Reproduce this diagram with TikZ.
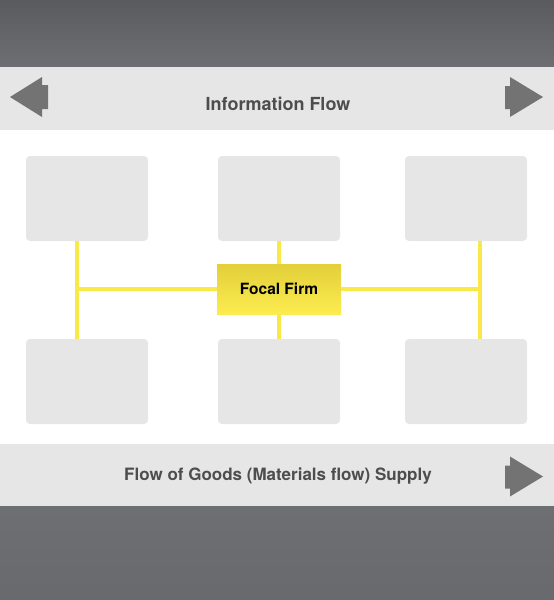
\documentclass[tikz,border=0pt]{standalone}
\usepackage{fontspec}
\setmainfont{TeX Gyre Heros}
\usetikzlibrary{positioning}

\definecolor{bandgray}{RGB}{230,230,230}
\definecolor{darktop}{RGB}{90,91,94}
\definecolor{darkbot}{RGB}{110,111,114}
\definecolor{arrowgray}{RGB}{115,115,116}
\definecolor{labelgray}{RGB}{77,77,79}
\definecolor{linkyellow}{RGB}{250,232,70}
\definecolor{firmtop}{RGB}{226,207,58}
\definecolor{firmbot}{RGB}{253,236,80}

\begin{document}
\begin{tikzpicture}
  [x=1pt, y=1pt,
    every node/.style={inner sep=0pt, outer sep=0pt},
    box/.style={fill=bandgray, rounded corners=4pt, minimum width=122pt, minimum height=85pt},
    firm/.style={top color=firmtop, bottom color=firmbot, minimum width=124pt, minimum height=50pt,
                 font=\bfseries\fontsize{15.5}{18}\selectfont},
    bandlabel/.style={text=labelgray, font=\bfseries\fontsize{18}{21}\selectfont},
%    link/.style={draw=linkyellow, line width=5pt},
    link/.style={draw=linkyellow, line width=4pt} ]
  \useasboundingbox (0,0) rectangle (554,-600);
  % background bands
  \shade[top color=darktop, bottom color=darkbot] (0,0) rectangle (554,-67);
  \fill[bandgray] (0,-67) rectangle (554,-130);
  \fill[bandgray] (0,-444) rectangle (554,-506);
  \shade[top color=darkbot, bottom color=darkbot!95!black] (0,-506) rectangle (554,-600);
  % flow arrows
  \fill[arrowgray] (10,-97) -- (42,-77) -- (42,-85) -- (48,-85) -- (48,-109) -- (42,-109) -- (42,-117) -- cycle;
  \foreach \dy in {0,-379.5}
    \fill[arrowgray, yshift=\dy] (543,-97) -- (510,-77) -- (510,-86) -- (505,-86) -- (505,-109)
      -- (510,-109) -- (510,-117) -- cycle;
  \node[bandlabel] (info) at (278,-104) {Information Flow};
  \node[bandlabel, font=\bfseries\fontsize{17}{20}\selectfont] (goods) at (278,-476) {Flow of Goods (Materials flow) Supply};
  % partner boxes
  \node[box] (tl) at (87,-198.5) {};
  \node[box, right=70pt of tl] (tm) {};
  \node[box, right=65pt of tm] (tr) {};
  \node[box, below=98pt of tl] (bl) {};
  \node[box, below=98pt of tm] (bm) {};
  \node[box, below=98pt of tr] (br) {};
  \coordinate (lx) at ([xshift=-10pt]tl.south);
  \coordinate (rx) at ([xshift=14pt]tr.south);
  % links
  \draw[link] (lx) -- (lx |- bl.north);
  \draw[link] (tm) -- (bm);
  \draw[link] (rx) -- (rx |- br.north);
  \node[firm] (focal) at (279,-289) {Focal Firm};
  \draw[link] (lx |- focal.west) -- (focal.west);
  \draw[link] (focal.east) -- (rx |- focal.east);
\end{tikzpicture}
\end{document}
